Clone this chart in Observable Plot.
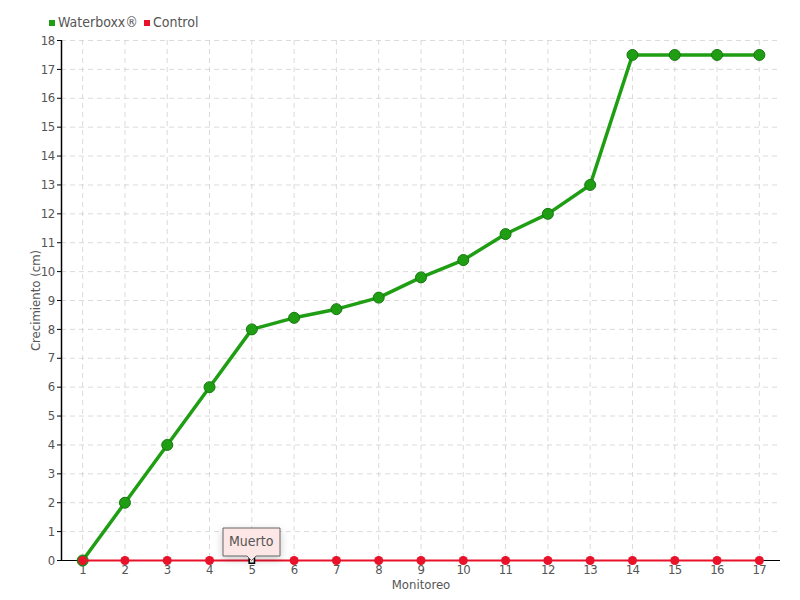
<!DOCTYPE html>
<html>
<head>
<meta charset="utf-8">
<script src="https://cdn.jsdelivr.net/npm/d3@7"></script>
<script src="https://cdn.jsdelivr.net/npm/@observablehq/plot@0.6"></script>
<style>
  html, body { margin: 0; padding: 0; background: #fff; }
  body { width: 800px; height: 600px; overflow: hidden; font-family: "DejaVu Sans Condensed", "Liberation Sans Narrow", sans-serif; }
  #legend { height: 30px; display: flex; align-items: flex-end; padding-left: 49px; font-size: 14px; color: #555; box-sizing: border-box; padding-bottom: 0px; }
  #legend span.item { display: inline-flex; align-items: center; margin-right: 6px; }
  #legend span.sw { display: inline-block; width: 6px; height: 6px; margin-right: 3px; margin-top: 2px; }
  svg text { fill: #555; }
  svg g[aria-label="x-axis tick label"] text, svg g[aria-label="y-axis tick label"] text { letter-spacing: -0.6px; }
</style>
</head>
<body>
<div id="legend"></div>
<div id="chart"></div>
<script>
const monitoreo = [1, 2, 3, 4, 5, 6, 7, 8, 9, 10, 11, 12, 13, 14, 15, 16, 17];
const waterboxx = [0, 2, 4, 6, 8, 8.4, 8.7, 9.1, 9.8, 10.4, 11.3, 12, 13, 17.5, 17.5, 17.5, 17.5];
const control = [0, 0, 0, 0, 0, 0, 0, 0, 0, 0, 0, 0, 0, 0, 0, 0, 0];
const controlNote = ["", "", "", "", "Muerto", "", "", "", "", "", "", "", "", "", "", "", ""];
const seriesNames = ["Waterboxx®", "Control"];
const seriesColors = ["#1f9e14", "#e8122a"];
const yTicks = [0, 1, 2, 3, 4, 5, 6, 7, 8, 9, 10, 11, 12, 13, 14, 15, 16, 17, 18];

const legend = document.getElementById("legend");
seriesNames.forEach((n, i) => {
  const s = document.createElement("span");
  s.className = "item";
  s.innerHTML = `<span class="sw" style="background:${seriesColors[i]}"></span>${n}`;
  legend.appendChild(s);
});

const wb = monitoreo.map((m, i) => ({m, v: waterboxx[i]}));
const ct = monitoreo.map((m, i) => ({m, v: control[i], note: controlNote[i]}));
const ctAlive = ct.filter(d => !d.note);
const ctDead = ct.filter(d => d.note);

const chart = Plot.plot({
  width: 800,
  height: 570,
  marginTop: 10,
  marginBottom: 40,
  marginLeft: 61,
  marginRight: 20,
  style: {fontFamily: '"DejaVu Sans Condensed", "Liberation Sans Narrow", sans-serif', fontSize: "13px", color: "#555"},
  x: {type: "linear", domain: [0.5, 17.5]},
  y: {domain: [0, 18]},
  marks: [
    Plot.gridX(monitoreo, {stroke: "#ccc", strokeOpacity: 0.7, strokeDasharray: "5,4"}),
    Plot.gridY(yTicks.slice(1), {stroke: "#ccc", strokeOpacity: 0.7, strokeDasharray: "5,4"}),
    Plot.axisX(monitoreo, {tickSize: 4, tickPadding: 0, tickFormat: d => String(d), fontSize: 13, label: "Monitoreo", labelAnchor: "center", labelArrow: "none", labelOffset: 28, stroke: "#000"}),
    Plot.axisY(yTicks, {tickSize: 4, tickPadding: 3, fontSize: 13, label: "Crecimiento (cm)", labelAnchor: "center", labelArrow: "none", labelOffset: 31, stroke: "#000"}),
    Plot.ruleX([0.5], {stroke: "#000", strokeWidth: 1.5}),
    Plot.ruleY([0], {stroke: "#000"}),
    Plot.line(wb, {x: "m", y: "v", stroke: seriesColors[0], strokeWidth: 3.5}),
    Plot.dot(wb, {x: "m", y: "v", r: 5.5, fill: seriesColors[0], stroke: "#17780f", strokeWidth: 1}),
    Plot.line(ct, {x: "m", y: "v", stroke: seriesColors[1], strokeWidth: 2}),
    Plot.dot(ctAlive, {x: "m", y: "v", r: 4.5, fill: seriesColors[1]}),
    Plot.dot(ctDead, {x: "m", y: "v", r: 3, symbol: "square", fill: "#fff", stroke: "#000", strokeWidth: 1.5}),
    Plot.tip(ctDead, {x: "m", y: "v", title: "note", anchor: "bottom", pointerSize: 9, fill: "#fde6e6", stroke: "#666", fontSize: 14, textPadding: 6})
  ]
});
document.getElementById("chart").appendChild(chart);
</script>
</body>
</html>
